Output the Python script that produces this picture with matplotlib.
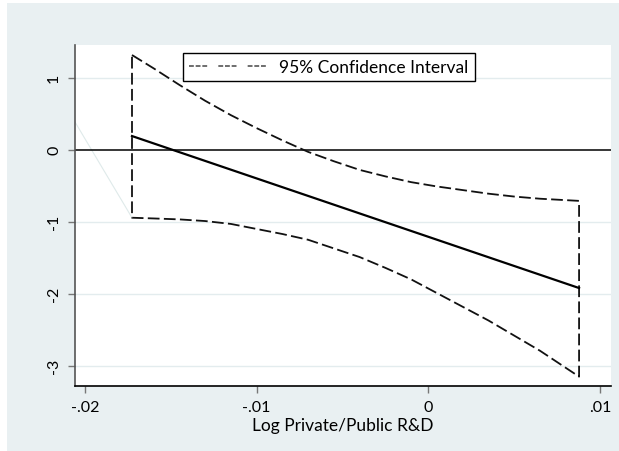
import numpy as np
import matplotlib.pyplot as plt
from matplotlib.lines import Line2D
from matplotlib.patches import Rectangle

# ---- data
x_fit = [-0.01726, 0.00878]
y_fit = [0.19, -1.92]

x_ci = [-0.01726, -0.0160, -0.0145, -0.0130, -0.0115, -0.0100, -0.0085, -0.0070, -0.0055,
        -0.0040, -0.0025, -0.0010, 0.0005, 0.0020, 0.0035, 0.0050, 0.0065, 0.00878]
ci_upper = [1.315, 1.13, 0.90, 0.68, 0.48, 0.30, 0.13, -0.03, -0.16,
            -0.28, -0.37, -0.45, -0.51, -0.56, -0.61, -0.65, -0.68, -0.71]
ci_lower = [-0.944, -0.954, -0.967, -0.99, -1.03, -1.10, -1.17, -1.25, -1.37,
            -1.49, -1.64, -1.80, -1.99, -2.18, -2.37, -2.58, -2.79, -3.15]

x_faint = [-0.02058, -0.01726]
y_faint = [0.385, -0.944]

xticks = [-0.02, -0.01, 0, 0.01]
xticklabels = ['-.02', '-.01', '0', '.01']
yticks = [1, 0, -1, -2, -3]
yticklabels = ['1', '0', '-1', '-2', '-3']

bg = '#e9f0f2'
plt.rcParams['font.family'] = ['Lato', 'DejaVu Sans']

fig = plt.figure(figsize=(6.19, 4.52), dpi=100)
fig.patch.set_facecolor('white')
fig.patches.append(Rectangle((7/619, 0), 1, 1 - 4/452, transform=fig.transFigure,
                             facecolor=bg, edgecolor='none', zorder=-10))

ax = fig.add_axes([75/619, 1 - 387/452, 536/619, 341/452])
ax.set_facecolor('white')

# closed CI outline: up left edge, along upper, down right edge, back along lower
cx = x_ci + x_ci[::-1] + [x_ci[0]]
cy = ci_upper + ci_lower[::-1] + [ci_upper[0]]

for yy in [1, -1, -2, -3]:
    ax.axhline(yy, color='#e3ecee', lw=1.0, zorder=0)
ax.plot(x_faint, y_faint, color='#dfeaea', lw=0.8, zorder=1)
ax.axhline(0, color='black', lw=1.1, zorder=2)
ax.plot(cx, cy, color='#111111', lw=1.3, linestyle=(0, (6.5, 2.4)), zorder=3)
ax.plot(x_fit, y_fit, color='black', lw=1.6, zorder=4)

ax.set_xlim(-0.02058, 0.01064)
ax.set_ylim(-3.28, 1.454)

ax.set_xticks(xticks)
ax.set_xticklabels(xticklabels, fontsize=11.5)
ax.set_yticks(yticks)
ax.set_yticklabels(yticklabels, fontsize=11.5, rotation=90, va='center')
ax.tick_params(axis='both', direction='out', length=5, width=1, color='#777777')
ax.tick_params(axis='x', pad=5)
ax.tick_params(axis='y', pad=5)

for s in ['top', 'right']:
    ax.spines[s].set_visible(False)
ax.spines['left'].set_color('#555555')
ax.spines['left'].set_linewidth(1.2)
ax.spines['bottom'].set_color('black')
ax.spines['bottom'].set_linewidth(1.2)

ax.set_xlabel('Log Private/Public R&D', fontsize=12.5, va='center')
ax.xaxis.set_label_coords(0.5, (387 - 426) / 341)

key = Line2D([], [], color='#555555', lw=1.2, linestyle=(0, (2.9, 1.1, 2.9, 1.1, 2.9, 6.7)))
leg = ax.legend([key], ['95% Confidence Interval'], loc='upper left',
                bbox_to_anchor=((183 - 75) / 536, (387 - 54) / 341),
                fontsize=12.5, handlelength=4.5, handletextpad=0.7,
                fancybox=False, framealpha=1, edgecolor='black',
                borderpad=0.35, borderaxespad=0)
leg.get_frame().set_linewidth(1.0)

fig.savefig('out.png', dpi=100, facecolor=fig.get_facecolor())
